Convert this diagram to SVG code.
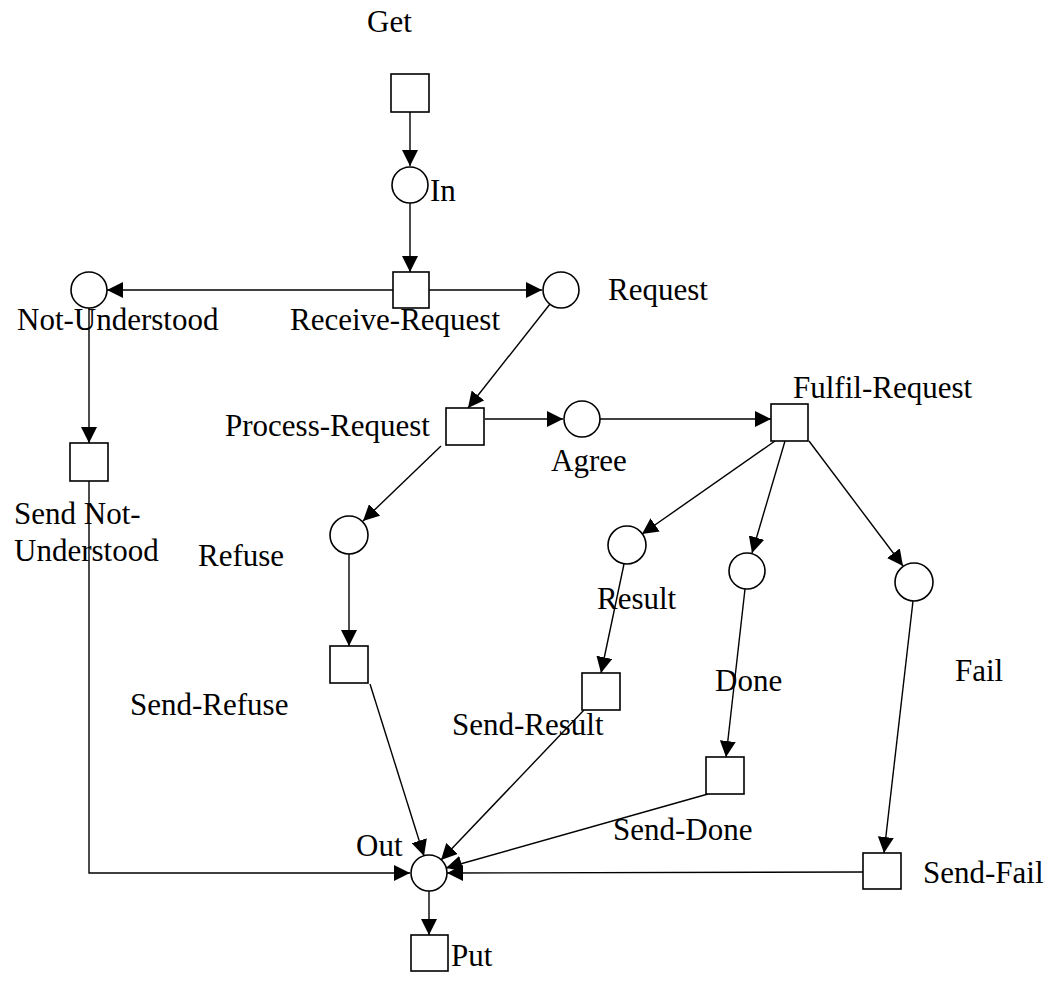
<svg xmlns="http://www.w3.org/2000/svg" width="1052" height="981" viewBox="0 0 1052 981">
  <style>
    .place { fill: #fff; stroke: #000; stroke-width: 1.6; }
    .trans { fill: #fff; stroke: #000; stroke-width: 1.6; }
    .lbl { font-family: "Liberation Serif", "Times New Roman", serif; font-size: 31px; fill: #000; }
    .arc { fill: none; stroke: #000; stroke-width: 1.4; }
  </style>
  <defs>
    <marker id="arrow" markerUnits="userSpaceOnUse" markerWidth="16" markerHeight="16" refX="16" refY="8" orient="auto">
      <path d="M0,0 L16,8 L0,16 z" fill="#000"/>
    </marker>
  </defs>
  <rect width="1052" height="981" fill="#fff"/>

  <!-- arcs of the net -->
  <g id="connectors">
    <line class="arc" x1="410" y1="112" x2="410" y2="166" marker-end="url(#arrow)"/>
    <line class="arc" x1="410" y1="203" x2="410" y2="272" marker-end="url(#arrow)"/>
    <line class="arc" x1="393" y1="290" x2="107" y2="290" marker-end="url(#arrow)"/>
    <line class="arc" x1="429" y1="290" x2="542" y2="290" marker-end="url(#arrow)"/>
    <line class="arc" x1="550" y1="304" x2="468" y2="408" marker-end="url(#arrow)"/>
    <line class="arc" x1="89" y1="308" x2="89" y2="443" marker-end="url(#arrow)"/>
    <polyline class="arc" points="89,481 89,873 410,873" marker-end="url(#arrow)"/>
    <line class="arc" x1="485" y1="419" x2="563" y2="419" marker-end="url(#arrow)"/>
    <line class="arc" x1="600" y1="419" x2="771" y2="419" marker-end="url(#arrow)"/>
    <line class="arc" x1="441" y1="446" x2="363" y2="521" marker-end="url(#arrow)"/>
    <line class="arc" x1="349" y1="554" x2="349" y2="646" marker-end="url(#arrow)"/>
    <line class="arc" x1="370" y1="684" x2="424" y2="856" marker-end="url(#arrow)"/>
    <line class="arc" x1="775" y1="441" x2="642" y2="534" marker-end="url(#arrow)"/>
    <line class="arc" x1="624" y1="564" x2="601" y2="673" marker-end="url(#arrow)"/>
    <line class="arc" x1="584" y1="710" x2="441" y2="860" marker-end="url(#arrow)"/>
    <line class="arc" x1="785" y1="441" x2="752" y2="553" marker-end="url(#arrow)"/>
    <line class="arc" x1="745" y1="589" x2="726" y2="757" marker-end="url(#arrow)"/>
    <line class="arc" x1="708" y1="794" x2="446" y2="868" marker-end="url(#arrow)"/>
    <line class="arc" x1="809" y1="441" x2="903" y2="566" marker-end="url(#arrow)"/>
    <line class="arc" x1="913" y1="601" x2="884" y2="853" marker-end="url(#arrow)"/>
    <line class="arc" x1="863" y1="872" x2="447" y2="873" marker-end="url(#arrow)"/>
    <line class="arc" x1="429" y1="891" x2="429" y2="935" marker-end="url(#arrow)"/>
  </g>

  <!-- transitions (squares) and places (circles) -->
  <g id="get"><rect class="trans" x="391" y="74" width="38" height="38"/><text class="lbl" x="367" y="32">Get</text></g>
  <g id="in"><circle class="place" cx="410" cy="185" r="18"/><text class="lbl" x="430" y="201">In</text></g>
  <g id="receive-request"><rect class="trans" x="393" y="272" width="36" height="36"/><text class="lbl" x="290" y="330">Receive-Request</text></g>
  <g id="not-understood"><circle class="place" cx="89" cy="290" r="18"/><text class="lbl" x="17" y="330">Not-Understood</text></g>
  <g id="request"><circle class="place" cx="561" cy="290" r="18"/><text class="lbl" x="608" y="300">Request</text></g>
  <g id="process-request"><rect class="trans" x="446" y="408" width="38" height="37"/><text class="lbl" x="225" y="436">Process-Request</text></g>
  <g id="agree"><circle class="place" cx="582" cy="419" r="18"/><text class="lbl" x="551" y="471">Agree</text></g>
  <g id="fulfil-request"><rect class="trans" x="771" y="404" width="37" height="37"/><text class="lbl" x="793" y="398">Fulfil-Request</text></g>
  <g id="send-not-understood"><rect class="trans" x="70" y="443" width="38" height="38"/><text class="lbl" x="14" y="524">Send Not-</text><text class="lbl" x="14" y="561">Understood</text></g>
  <g id="refuse"><circle class="place" cx="349" cy="535" r="19"/><text class="lbl" x="198" y="566">Refuse</text></g>
  <g id="send-refuse"><rect class="trans" x="330" y="646" width="38" height="37"/><text class="lbl" x="130" y="715">Send-Refuse</text></g>
  <g id="result"><circle class="place" cx="627" cy="545" r="19"/><text class="lbl" x="597" y="609">Result</text></g>
  <g id="send-result"><rect class="trans" x="582" y="673" width="38" height="37"/><text class="lbl" x="452" y="735">Send-Result</text></g>
  <g id="done"><circle class="place" cx="747" cy="571" r="18"/><text class="lbl" x="715" y="691">Done</text></g>
  <g id="send-done"><rect class="trans" x="706" y="757" width="38" height="37"/><text class="lbl" x="613" y="840">Send-Done</text></g>
  <g id="fail"><circle class="place" cx="914" cy="582" r="19"/><text class="lbl" x="955" y="681">Fail</text></g>
  <g id="send-fail"><rect class="trans" x="863" y="853" width="38" height="36"/><text class="lbl" x="923" y="883">Send-Fail</text></g>
  <g id="out"><circle class="place" cx="429" cy="873" r="18"/><text class="lbl" x="356" y="856">Out</text></g>
  <g id="put"><rect class="trans" x="411" y="935" width="37" height="36"/><text class="lbl" x="451" y="966">Put</text></g>
</svg>
